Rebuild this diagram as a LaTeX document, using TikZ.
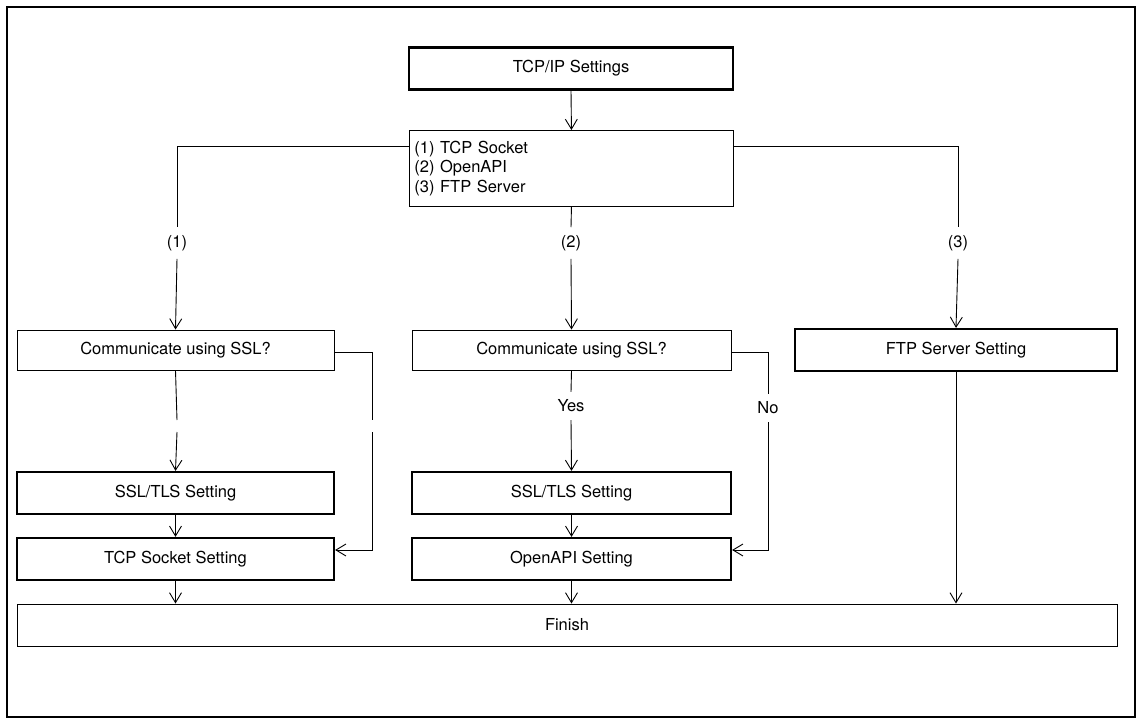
\documentclass[tikz,border=0pt]{standalone}
\usepackage{fontspec}
\setmainfont{TeX Gyre Heros}
\usetikzlibrary{arrows.meta}
\begin{document}
\begin{tikzpicture}[x=1pt,y=-1pt,
  thin box/.style={draw,line width=0.9pt,minimum height=40pt,inner sep=0pt,font=\fontsize{16.5}{19.5}\selectfont},
  thick box/.style={draw,line width=2.2pt,minimum height=42pt,inner sep=0pt,font=\fontsize{16.5}{19.5}\selectfont},
  lab/.style={font=\fontsize{16.5}{19.5}\selectfont,inner sep=2pt,outer sep=6pt},
  conn/.style={line width=0.9pt},
  arr/.style={conn,-{Straight Barb[length=10pt,width=12pt,line width=0.9pt]}}]
\useasboundingbox (0,0) rectangle (1143,726);
\draw[line width=1.1pt] (7,7) rectangle (1135,717);
\node[thick box,minimum width=324pt] (tcpip) at (571,68.5) {TCP/IP Settings};
\node[thin box,minimum width=324pt,minimum height=76pt,align=left,anchor=north west,text width=314pt,inner sep=5pt] (menu) at (409,130) {(1) TCP Socket\\(2) OpenAPI\\(3) FTP Server};
\node[thin box,minimum width=317pt] (c1) at (175.5,350) {Communicate using SSL?};
\node[thin box,minimum width=319pt] (c2) at (571.5,350) {Communicate using SSL?};
\node[thick box,minimum width=322pt] (ftp) at (956,350) {FTP Server Setting};
\node[thick box,minimum width=317pt] (s1) at (175.5,493) {SSL/TLS Setting};
\node[thick box,minimum width=319pt] (s2) at (571.5,493) {SSL/TLS Setting};
\node[thick box,minimum width=317pt] (t1) at (175.5,559) {TCP Socket Setting};
\node[thick box,minimum width=319pt] (o2) at (571.5,559) {OpenAPI Setting};
\node[thin box,minimum width=1100pt,minimum height=42pt] (fin) at (567,625) {Finish};
\node[lab] (l1) at (177,243) {(1)};
\node[lab] (l2) at (571,243) {(2)};
\node[lab] (l3) at (958,243) {(3)};
\node[lab] (yes) at (571,406) {Yes};
\node[lab] (no) at (768,408) {No};
\coordinate (g1a) at (177,420);
\coordinate (g1b) at (177,432);
\coordinate (g1c) at (372,432);
\coordinate (g1d) at (372,420);
\draw[arr] (tcpip.south) -- (menu.north);
\draw[conn] (menu.west |- 0,146) -| (l1.north);
\draw[arr] (l1.south) -- (c1.north);
\draw[conn] (menu.south) -- (l2.north);
\draw[arr] (l2.south) -- (c2.north);
\draw[conn] (menu.east |- 0,146) -| (l3.north);
\draw[arr] (l3.south) -- (ftp.north);
\draw[conn] (c1.south) -- (g1a);
\draw[arr] (g1b) -- (s1.north);
\draw[conn] (c1.east |- 0,352) -| (g1d);
\draw[arr] (g1c) |- (t1.east |- 0,550);
\draw[conn] (c2.south) -- (yes.north);
\draw[arr] (yes.south) -- (s2.north);
\draw[conn] (c2.east |- 0,352) -| (no.north);
\draw[arr] (no.south) |- (o2.east |- 0,550);
\draw[arr] (s1) -- (t1);
\draw[arr] (s2) -- (o2);
\draw[arr] (t1.south) -- (fin.north -| t1.south);
\draw[arr] (o2.south) -- (fin.north -| o2.south);
\draw[arr] (ftp.south) -- (fin.north -| ftp.south);
\end{tikzpicture}
\end{document}
